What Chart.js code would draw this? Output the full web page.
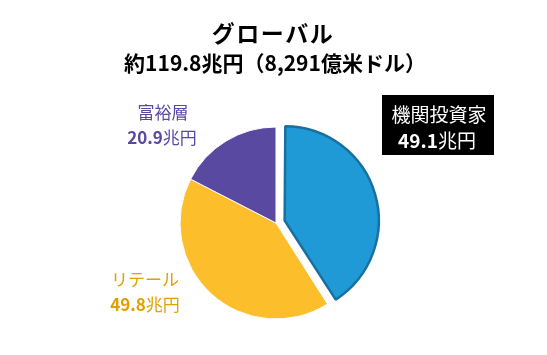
<!DOCTYPE html>
<html><head><meta charset="utf-8">
<script src="https://cdn.jsdelivr.net/npm/chart.js@4"></script>
<style>html,body{margin:0;padding:0;background:#fff}#w{width:547px;height:355px;position:relative}</style>
</head><body><div id="w"><canvas id="c" width="547" height="355"></canvas></div>
<script>
const titleLines = ["グローバル", "約119.8兆円（8,291億米ドル）"];
const categories = ["機関投資家", "リテール", "富裕層"];
const values = [49.1, 49.8, 20.9];
const valueLabels = ["49.1", "49.8", "20.9"];
const unit = "兆円";
const colors = ["#1f9ad6", "#fdbe2b", "#5a49a1"];
const borderColors = ["#17709f", "#ffffff", "#ffffff"];

const FONT = '"Noto Sans CJK JP", "Noto Sans", sans-serif';

function drawNumUnit(ctx, num, cx, cy, color, size) {
  ctx.font = `bold ${size}px ${FONT}`;
  const w1 = ctx.measureText(num).width;
  ctx.font = `${size}px ${FONT}`;
  const w2 = ctx.measureText(unit).width;
  const x0 = cx - (w1 + w2) / 2;
  ctx.fillStyle = color;
  ctx.textAlign = 'left';
  ctx.font = `bold ${size}px ${FONT}`;
  ctx.fillText(num, x0, cy);
  ctx.font = `${size}px ${FONT}`;
  ctx.fillText(unit, x0 + w1, cy);
}

const shrinkPlugin = {
  id: 'shrink',
  afterDatasetsUpdate(chart) {
    const meta = chart.getDatasetMeta(0);
    const el = meta.data[0];
    if (el) el.outerRadius = el.outerRadius - 6;
  }
};

const textPlugin = {
  id: 'texts',
  afterDraw(chart) {
    const ctx = chart.ctx;
    ctx.save();
    ctx.textBaseline = 'middle';
    ctx.textAlign = 'center';
    ctx.fillStyle = '#000';
    ctx.font = `bold 23px ${FONT}`;
    try { ctx.letterSpacing = '1.5px'; } catch (e) {}
    ctx.fillText(titleLines[0], 273, 33);
    try { ctx.letterSpacing = '0px'; } catch (e) {}
    ctx.font = `bold 21px ${FONT}`;
    ctx.fillText(titleLines[1], 275, 63);

    // institutional box
    ctx.fillStyle = '#000';
    ctx.fillRect(382, 95, 112, 60);
    ctx.fillStyle = '#fff';
    ctx.textAlign = 'center';
    ctx.font = `19px ${FONT}`;
    ctx.fillText(categories[0], 439, 115);
    drawNumUnit(ctx, valueLabels[0], 437, 141, '#fff', 19);

    // wealthy
    ctx.textAlign = 'center';
    ctx.fillStyle = '#5a49a1';
    ctx.font = `17px ${FONT}`;
    ctx.fillText(categories[2], 163, 113);
    drawNumUnit(ctx, valueLabels[2], 162, 138, '#5a49a1', 17);

    // retail
    ctx.textAlign = 'center';
    ctx.fillStyle = '#e0a000';
    ctx.font = `17px ${FONT}`;
    ctx.fillText(categories[1], 145, 280);
    drawNumUnit(ctx, valueLabels[1], 145, 305, '#e0a000', 17);
    ctx.restore();
  }
};

new Chart(document.getElementById('c'), {
  type: 'pie',
  data: {
    labels: categories,
    datasets: [{
      data: values,
      backgroundColor: colors,
      borderColor: borderColors,
      borderWidth: [2.5, 1, 1],
      offset: [36, 0, 0],
      radius: 96
    }]
  },
  options: {
    responsive: false,
    animation: false,
    rotation: 0,
    layout: { padding: { left: 105, right: 100, top: 110, bottom: 19 } },
    plugins: { legend: { display: false }, tooltip: { enabled: false }, title: { display: false } }
  },
  plugins: [shrinkPlugin, textPlugin]
});
</script>
</body></html>
